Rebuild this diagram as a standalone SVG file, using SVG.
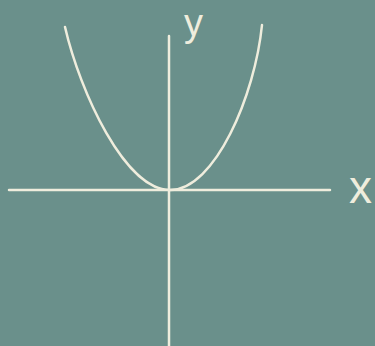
<svg xmlns="http://www.w3.org/2000/svg" width="375" height="346" viewBox="0 0 375 346">
<style>
.ln{fill:none;stroke:#efeddd;stroke-width:2.5;stroke-linecap:round}
.lb{font-family:"Liberation Sans",Arial,sans-serif;fill:#efeddd}
</style>
<rect width="375" height="346" fill="#6a908b"/>
<g id="connectors">
<line id="x-axis" class="ln" x1="9" y1="190" x2="330" y2="190"/>
<line id="y-axis" class="ln" x1="169" y1="36" x2="169" y2="346"/>
</g>
<g id="curve">
<path class="ln" d="M65,27 C80,92 125,190 170,190 C215,190 255,95 262,25"/>
</g>
<g id="label-y"><text class="lb" x="184" y="36" font-size="38">y</text></g>
<g id="label-x"><text class="lb" x="349" y="203" font-size="46">x</text></g>
</svg>
